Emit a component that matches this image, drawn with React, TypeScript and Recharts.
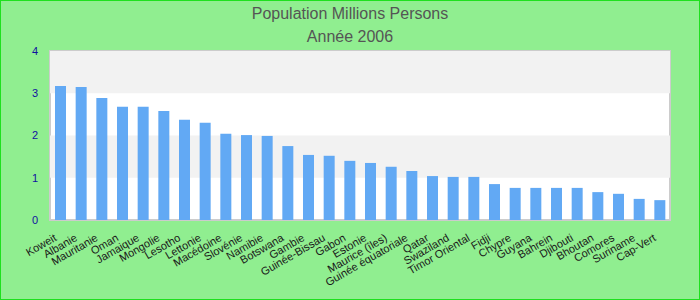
import React from 'react';
import { BarChart, Bar, XAxis, YAxis, ReferenceArea } from 'recharts';

const countries = [
  'Koweit', 'Albanie', 'Mauritanie', 'Oman', 'Jamaique', 'Mongolie', 'Lesotho', 'Lettonie',
  'Macédoine', 'Slovénie', 'Namibie', 'Botswana', 'Gambie', 'Guinée-Bissau', 'Gabon', 'Estonie',
  'Maurice (îles)', 'Guinée équatoriale', 'Qatar', 'Swaziland', 'Timor Oriental', 'Fidji', 'Chypre',
  'Guyana', 'Bahrein', 'Djibouti', 'Bhoutan', 'Comores', 'Suriname', 'Cap-Vert',
];
const population = [
  3.17, 3.15, 2.89, 2.68, 2.68, 2.58, 2.37, 2.30,
  2.04, 2.01, 1.99, 1.75, 1.54, 1.52, 1.40, 1.35,
  1.26, 1.16, 1.04, 1.02, 1.02, 0.85, 0.76,
  0.76, 0.76, 0.76, 0.66, 0.62, 0.50, 0.47,
];
const yTicks = [0, 1, 2, 3, 4];
const greyBands = [[1, 2], [3, 4]];
const titleLines = ['Population Millions Persons', 'Année 2006'];

const data = countries.map((c, i) => ({ name: c, value: population[i] }));

const FONT = '"Liberation Sans", Arial, sans-serif';

const XTick = (props: any) => {
  const { x, payload } = props;
  const ax = x - 3;
  const ay = 240;
  return (
    <text
      x={ax}
      y={ay}
      textAnchor="end"
      fontSize={11}
      fontFamily={FONT}
      fill="#1a1a1a"
      transform={`rotate(-30, ${ax}, ${ay})`}
    >
      {payload.value}
    </text>
  );
};

export default function App() {
  return (
    <div style={{ position: 'absolute', left: 0, top: 0, width: 700, height: 300, background: '#90ee90' }}>
      <BarChart
        width={700}
        height={300}
        data={data}
        margin={{ top: 51, right: 30, bottom: 0, left: 0 }}
        barSize={11}
      >
        <XAxis
          dataKey="name"
          interval={0}
          height={80}
          tick={<XTick />}
          tickLine={false}
          axisLine={false}
        />
        <YAxis
          domain={[0, 4]}
          ticks={yTicks}
          width={50}
          tickLine={false}
          axisLine={false}
          tickSize={0}
          tickMargin={12}
          tick={{ fill: '#1010a0', fontSize: 11, fontFamily: FONT }}
        />
        <ReferenceArea y1={0} y2={4} fill="#ffffff" fillOpacity={1} stroke="#cccccc" strokeWidth={2} />
        {greyBands.map(([a, b]) => (
          <ReferenceArea key={a} y1={a} y2={b} fill="#f2f2f2" fillOpacity={1} stroke="none" />
        ))}
        <Bar dataKey="value" fill="#62a9f4" isAnimationActive={false} />
      </BarChart>
      <svg
        width={700}
        height={300}
        style={{ position: 'absolute', left: 0, top: 0, pointerEvents: 'none' }}
      >
        <text x={350} y={18.5} textAnchor="middle" fontSize={16} fontFamily={FONT} fill="#555555">
          {titleLines[0]}
        </text>
        <text x={350} y={42} textAnchor="middle" fontSize={16} fontFamily={FONT} fill="#555555">
          {titleLines[1]}
        </text>
        <rect x={0.5} y={0.5} width={699} height={299} fill="none" stroke="#1ee01e" strokeWidth={1} />
      </svg>
    </div>
  );
}
